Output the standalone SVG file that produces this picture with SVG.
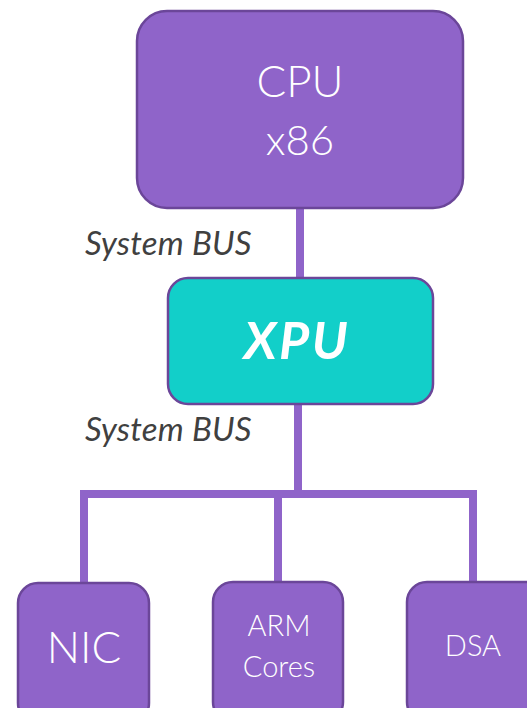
<svg xmlns="http://www.w3.org/2000/svg" width="527" height="708" viewBox="0 0 527 708">
  <style>
    .box { fill: #8F64C9; stroke: #6B4699; stroke-width: 2.5; }
    .xpu { fill: #12CFC9; stroke: #6B4699; stroke-width: 2.5; }
    .bus { stroke: #8F64C9; stroke-width: 8; fill: none; stroke-linecap: butt; stroke-linejoin: miter; }
    .lbl { font-family: "Lato", "Open Sans", "Liberation Sans", sans-serif; font-weight: 300; fill: #FFFFFF; text-anchor: middle; }
    .xlbl { font-family: "Lato", "Open Sans", "Liberation Sans", sans-serif; font-weight: 700; font-style: italic; fill: #FFFFFF; text-anchor: middle; }
    .buslbl { font-family: "Lato", "Open Sans", "Liberation Sans", sans-serif; font-weight: 400; font-style: italic; fill: #404040; font-size: 33px; letter-spacing: 0.2px; }
  </style>

  <!-- bus wiring -->
  <g id="connectors">
    <line class="bus" x1="300" y1="208" x2="300" y2="278"/>
    <line class="bus" x1="298" y1="404" x2="298" y2="494"/>
    <polyline class="bus" points="84,583 84,494 473,494 473,582"/>
    <line class="bus" x1="278" y1="494" x2="278" y2="582"/>
  </g>

  <g id="bus-labels">
    <text class="buslbl" x="85" y="255">System BUS</text>
    <text class="buslbl" x="85" y="441">System BUS</text>
  </g>

  <g id="cpu">
    <rect class="box" x="137" y="11" width="326" height="197" rx="30" ry="30"/>
    <text class="lbl" x="300" y="97" font-size="44">CPU</text>
    <text class="lbl" x="300" y="155" font-size="42">x86</text>
  </g>

  <g id="xpu">
    <rect class="xpu" x="168" y="278" width="265" height="126" rx="20" ry="20"/>
    <text class="xlbl" x="297" y="359" font-size="52" letter-spacing="2.5">XPU</text>
  </g>

  <g id="nic">
    <rect class="box" x="18" y="583" width="131" height="140" rx="20" ry="20"/>
    <text class="lbl" x="84" y="663" font-size="44">NIC</text>
  </g>

  <g id="arm">
    <rect class="box" x="213" y="582" width="130" height="140" rx="20" ry="20"/>
    <text class="lbl" x="279" y="636" font-size="29">ARM</text>
    <text class="lbl" x="279" y="677" font-size="29">Cores</text>
  </g>

  <g id="dsa">
    <rect class="box" x="407" y="582" width="140" height="140" rx="20" ry="20"/>
    <text class="lbl" x="473" y="656" font-size="29">DSA</text>
  </g>
</svg>
